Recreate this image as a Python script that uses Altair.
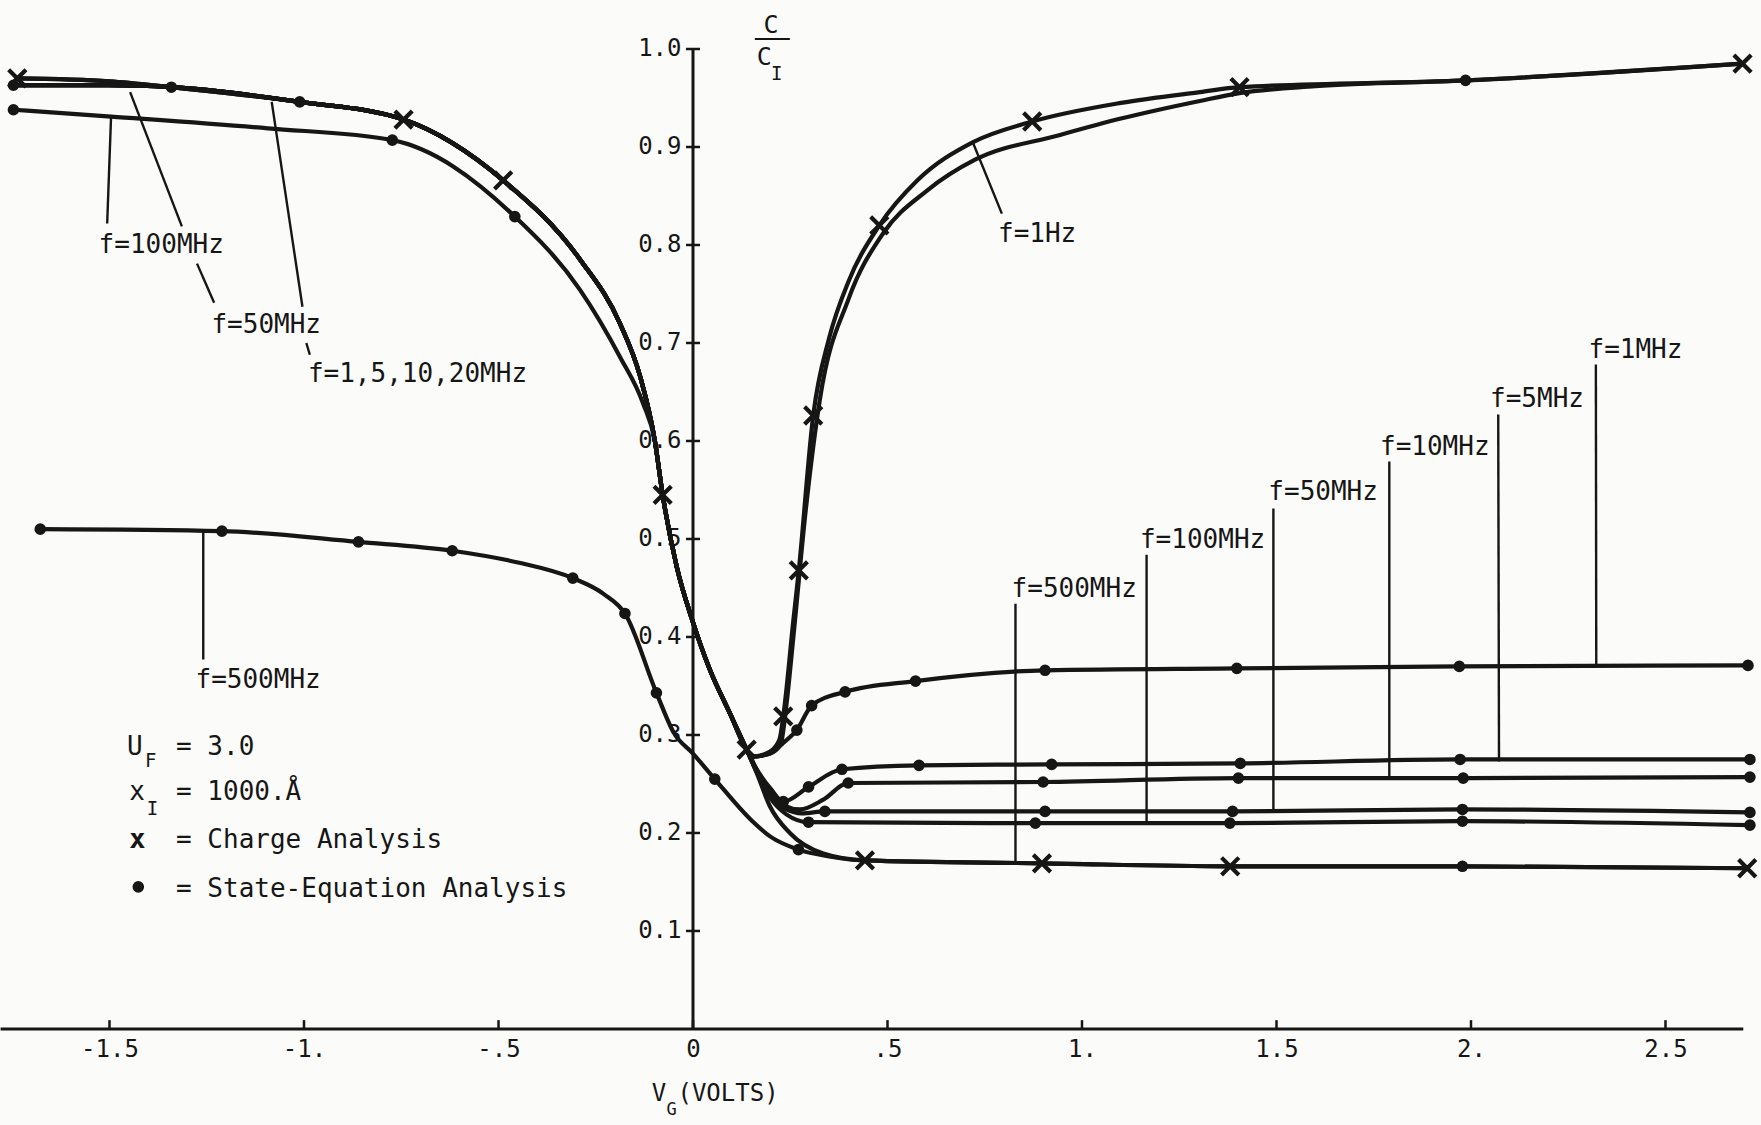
import altair as alt
import pandas as pd

W, H = 1761, 1125
X_DOM = [-1.7815, 2.7455]
Y_DOM = [-0.098, 1.05]
INK = "#161616"
PAPER = "#fbfbf9"
FONT = "DejaVu Sans Mono"

# ---------------- data (V_G in volts, C/C_I) ----------------
# shared accumulation/depletion bundle
BUNDLE_V = [-1.341, -1.011, -0.744, -0.488, -0.290, -0.188, -0.136, -0.098,
            -0.078, -0.042, 0.0, 0.044, 0.095, 0.138]
BUNDLE_C = [0.961, 0.946, 0.928, 0.866, 0.785, 0.720, 0.666, 0.600,
            0.545, 0.472, 0.415, 0.366, 0.322, 0.285]

Q_START_V = [-1.737, -1.50]
Q_START_C = [0.970, 0.967]
S_START_V = [-1.747, -1.50]
S_START_C = [0.963, 0.963]

Q_1HZ_V = [0.155, 0.198, 0.222, 0.232, 0.258, 0.272, 0.309, 0.35, 0.40, 0.479, 0.577, 0.72,
           0.872, 1.10, 1.303, 1.405, 1.986, 2.698]
Q_1HZ_C = [0.278, 0.283, 0.295, 0.319, 0.417, 0.468, 0.626, 0.705, 0.763, 0.820, 0.866, 0.905,
           0.926, 0.945, 0.956, 0.961, 0.968, 0.985]

Q_HF_V = [0.164, 0.198, 0.249, 0.335, 0.442, 0.897, 1.381, 1.978, 2.71]
Q_HF_C = [0.261, 0.227, 0.200, 0.179, 0.172, 0.169, 0.166, 0.166, 0.164]

S_1HZ_V = [0.155, 0.198, 0.225, 0.240, 0.258, 0.29, 0.326, 0.40, 0.489, 0.60, 0.725, 0.941,
           1.10, 1.303, 1.405, 1.60, 1.986, 2.698]
S_1HZ_C = [0.278, 0.281, 0.290, 0.330, 0.400, 0.530, 0.642, 0.745, 0.812, 0.855, 0.887, 0.912,
           0.929, 0.947, 0.955, 0.962, 0.968, 0.985]

S_1MHZ_V = [0.155, 0.198, 0.232, 0.267, 0.305, 0.391, 0.572, 0.905, 1.398, 1.970, 2.712]
S_1MHZ_C = [0.278, 0.281, 0.292, 0.305, 0.330, 0.344, 0.355, 0.366, 0.368, 0.370, 0.371]

S_5MHZ_V = [0.164, 0.200, 0.232, 0.297, 0.383, 0.581, 0.922, 1.407, 1.972, 2.717]
S_5MHZ_C = [0.265, 0.245, 0.232, 0.247, 0.265, 0.269, 0.270, 0.271, 0.275, 0.275]

S_10MHZ_V = [0.164, 0.200, 0.235, 0.275, 0.335, 0.399, 0.900, 1.402, 1.980, 2.717]
S_10MHZ_C = [0.264, 0.241, 0.228, 0.224, 0.234, 0.251, 0.252, 0.256, 0.256, 0.257]

S_50MHZ_V = [0.164, 0.200, 0.240, 0.280, 0.339, 0.905, 1.387, 1.978, 2.717]
S_50MHZ_C = [0.263, 0.238, 0.224, 0.220, 0.222, 0.222, 0.222, 0.224, 0.221]

S_100_LEFT_V = [-1.747, -1.496, -1.093, -0.773, -0.458, -0.290, -0.188, -0.128]
S_100_LEFT_C = [0.938, 0.931, 0.919, 0.907, 0.829, 0.754, 0.686, 0.638]
S_100_RIGHT_V = [0.164, 0.200, 0.240, 0.297, 0.880, 1.380, 1.978, 2.717]
S_100_RIGHT_C = [0.262, 0.235, 0.219, 0.211, 0.210, 0.210, 0.212, 0.208]

S_500_V = [-1.678, -1.211, -0.860, -0.619, -0.45, -0.309, -0.23, -0.175, -0.094, -0.049,
           0.0, 0.056, 0.15, 0.20, 0.271, 0.35, 0.442, 0.897, 1.381, 1.978, 2.71]
S_500_C = [0.510, 0.508, 0.497, 0.488, 0.476, 0.460, 0.444, 0.424, 0.343, 0.302,
           0.281, 0.255, 0.213, 0.196, 0.183, 0.176, 0.172, 0.169, 0.166, 0.166, 0.164]

# markers
DOT_V = [-1.747, -1.341, -1.011, -1.747, -0.773, -0.458,
         -1.678, -1.211, -0.860, -0.619, -0.309, -0.175, -0.094, 0.056, 0.271,
         0.267, 0.305, 0.391, 0.572, 0.905, 1.398, 1.970, 2.712,
         0.232, 0.297, 0.383, 0.581, 0.922, 1.407, 1.972, 2.717,
         0.399, 0.900, 1.402, 1.980, 2.717,
         0.339, 0.905, 1.387, 1.978, 2.717,
         0.297, 0.880, 1.380, 1.978, 2.717,
         1.978, 1.986]
DOT_C = [0.963, 0.961, 0.946, 0.938, 0.907, 0.829,
         0.510, 0.508, 0.497, 0.488, 0.460, 0.424, 0.343, 0.255, 0.183,
         0.305, 0.330, 0.344, 0.355, 0.366, 0.368, 0.370, 0.371,
         0.232, 0.247, 0.265, 0.269, 0.270, 0.271, 0.275, 0.275,
         0.251, 0.252, 0.256, 0.256, 0.257,
         0.222, 0.222, 0.222, 0.224, 0.221,
         0.211, 0.210, 0.210, 0.212, 0.208,
         0.166, 0.968]

CROSS_V = [-1.737, -0.744, -0.488, -0.078, 0.138, 0.232, 0.272, 0.309, 0.479, 0.872, 1.405,
           2.698, 0.442, 0.897, 1.381, 2.71]
CROSS_C = [0.970, 0.928, 0.866, 0.545, 0.285, 0.319, 0.468, 0.626, 0.820, 0.926, 0.961,
           0.985, 0.172, 0.169, 0.166, 0.164]

# curve labels and their leader lines
LABEL_TEXT = ["f=100MHz", "f=50MHz", "f=1,5,10,20MHz", "f=500MHz", "f=1Hz",
              "f=500MHz", "f=100MHz", "f=50MHz", "f=10MHz", "f=5MHz", "f=1MHz"]
LABEL_V = [-1.528, -1.238, -0.990, -1.279, 0.784, 0.819, 1.149, 1.479, 1.766, 2.049, 2.302]
LABEL_C = [0.7915, 0.710, 0.660, 0.3477, 0.8034, 0.4411, 0.4905, 0.5398, 0.5857, 0.635, 0.6844]

PTR_V1 = [-1.496, -1.447, -1.275, -1.083, -0.994, -1.259, 0.720, 0.829, 1.166, 1.492, 1.790, 2.070, 2.321]
PTR_C1 = [0.931, 0.956, 0.781, 0.946, 0.700, 0.509, 0.904, 0.434, 0.484, 0.531, 0.579, 0.627, 0.678]
PTR_V2 = [-1.506, -1.314, -1.231, -1.004, -0.985, -1.259, 0.794, 0.829, 1.166, 1.492, 1.790, 2.072, 2.322]
PTR_C2 = [0.822, 0.819, 0.741, 0.737, 0.688, 0.377, 0.832, 0.171, 0.210, 0.222, 0.256, 0.273, 0.370]

# legend block
LEG_TEXT = ["U", "= 3.0", "x", "= 1000.Å", "= Charge Analysis", "= State-Equation Analysis"]
LEG_V = [-1.455, -1.329, -1.449, -1.329, -1.329, -1.329]
LEG_C = [0.2791, 0.2791, 0.2337, 0.2337, 0.1844, 0.1350]
SUB_TEXT = ["F", "I"]
SUB_V = [-1.409, -1.404]
SUB_C = [0.2677, 0.2184]
LEG_CROSS_TEXT = ["x"]
LEG_CROSS_V = [-1.449]
LEG_CROSS_C = [0.1844]
LEG_DOT_V = [-1.426]
LEG_DOT_C = [0.145]

# axis titles
YT_TEXT = ["C", "C"]
YT_V = [0.181, 0.164]
YT_C = [1.016, 0.9837]
YT_SUB_TEXT = ["I"]
YT_SUB_V = [0.2005]
YT_SUB_C = [0.968]
YT_BAR_V = [0.159]
YT_BAR_V2 = [0.249]
YT_BAR_C = [1.0102]
XT_TEXT = ["V", "(VOLTS)"]
XT_V = [-0.106, -0.040]
XT_C = [-0.073, -0.073]
XT_SUB_TEXT = ["G"]
XT_SUB_V = [-0.068]
XT_SUB_C = [-0.088]

# axes
X_TICKS = [-1.5, -1.0, -0.5, 0.0, 0.5, 1.0, 1.5, 2.0, 2.5]
X_TICK_LABELS = ["-1.5", "-1.", "-.5", "0", ".5", "1.", "1.5", "2.", "2.5"]
Y_TICKS = [0.1, 0.2, 0.3, 0.4, 0.5, 0.6, 0.7, 0.8, 0.9, 1.0]
X_AXIS_SPAN = [-1.78, 2.70]
Y_AXIS_SPAN = [0.0, 1.0]

# ---------------- build tables ----------------
def pts(v, c):
    return list(zip(v, c))

bundle = pts(BUNDLE_V, BUNDLE_C)
bundle_tail = [p for p in bundle if p[0] > -0.12]
curves = {
    "Q 1Hz": pts(Q_START_V, Q_START_C) + bundle + pts(Q_1HZ_V, Q_1HZ_C),
    "Q HF": pts(Q_START_V, Q_START_C) + bundle + pts(Q_HF_V, Q_HF_C),
    "S 1Hz": pts(S_START_V, S_START_C) + bundle + pts(S_1HZ_V, S_1HZ_C),
    "S 1MHz": pts(S_START_V, S_START_C) + bundle + pts(S_1MHZ_V, S_1MHZ_C),
    "S 5MHz": pts(S_START_V, S_START_C) + bundle + pts(S_5MHZ_V, S_5MHZ_C),
    "S 10MHz": pts(S_START_V, S_START_C) + bundle + pts(S_10MHZ_V, S_10MHZ_C),
    "S 50MHz": pts(S_START_V, S_START_C) + bundle + pts(S_50MHZ_V, S_50MHZ_C),
    "S 100MHz": pts(S_100_LEFT_V, S_100_LEFT_C) + bundle_tail + pts(S_100_RIGHT_V, S_100_RIGHT_C),
    "S 500MHz": pts(S_500_V, S_500_C),
}
WIDTHS = {"Q 1Hz": 4.2, "Q HF": 4.2, "S 1Hz": 2.2, "S 1MHz": 3.0, "S 5MHz": 3.2,
          "S 10MHz": 3.0, "S 50MHz": 3.0, "S 100MHz": 2.5, "S 500MHz": 2.3}

rows = []
for name, p in curves.items():
    for i, (v, c) in enumerate(p):
        rows.append({"series": name, "i": i, "v": v, "c": c})
curve_df = pd.DataFrame(rows)

x0_px = (0 - X_DOM[0]) / (X_DOM[1] - X_DOM[0]) * W
y0_px = (Y_DOM[1] - 0) / (Y_DOM[1] - Y_DOM[0]) * H

label_expr = " : ".join(
    f"abs(datum.value - ({t})) < 1e-6 ? '{l}'" for t, l in zip(X_TICKS, X_TICK_LABELS)
) + " : ''"

xscale = alt.Scale(domain=X_DOM, nice=False, zero=False)
yscale = alt.Scale(domain=Y_DOM, nice=False, zero=False)
xaxis = alt.Axis(orient="bottom", offset=-(H - y0_px), values=X_TICKS, labelExpr=label_expr,
                 domain=False, ticks=False, tickSize=0, grid=False, title=None,
                 labelFont=FONT, labelFontSize=24, labelColor=INK, labelPadding=9,
                 labelFlush=False, labelOverlap=False)
yaxis = alt.Axis(orient="left", offset=-x0_px, values=Y_TICKS, format=".1f",
                 domain=False, ticks=False, tickSize=0, grid=False, title=None,
                 labelFont=FONT, labelFontSize=24, labelColor=INK, labelPadding=12,
                 labelBaseline="middle", labelFlush=False, labelOverlap=False)


def X(f="v"):
    return alt.X(f"{f}:Q", scale=xscale, axis=xaxis)


def Y(f="c"):
    return alt.Y(f"{f}:Q", scale=yscale, axis=yaxis)


# curves
lines = alt.Chart(curve_df).mark_line(interpolate="monotone", color=INK, strokeCap="round",
                                      strokeJoin="round").encode(
    x=X(), y=Y(), detail="series:N", order="i:Q",
    strokeWidth=alt.StrokeWidth("series:N", legend=None,
                                scale=alt.Scale(domain=list(WIDTHS.keys()),
                                                range=list(WIDTHS.values()))),
)

# leader lines
ptr_df = pd.DataFrame({"v": PTR_V1, "c": PTR_C1, "v2": PTR_V2, "c2": PTR_C2})
ptrs = alt.Chart(ptr_df).mark_rule(color=INK, strokeWidth=2.4).encode(
    x=X(), y=Y(), x2="v2:Q", y2="c2:Q")

# axis lines and ticks
ax_df = pd.DataFrame({"v": [0.0, X_AXIS_SPAN[0]], "c": [Y_AXIS_SPAN[0], 0.0],
                      "v2": [0.0, X_AXIS_SPAN[1]], "c2": [Y_AXIS_SPAN[1], 0.0]})
axlines = alt.Chart(ax_df).mark_rule(color=INK, strokeWidth=3).encode(
    x=X(), y=Y(), x2="v2:Q", y2="c2:Q")
xt_df = pd.DataFrame({"v": X_TICKS})
xticks = alt.Chart(xt_df).transform_calculate(c="0", c2="0.009").mark_rule(
    color=INK, strokeWidth=2.5).encode(x=X(), y=Y(), y2="c2:Q")
yt_df = pd.DataFrame({"c": Y_TICKS})
yticks = alt.Chart(yt_df).transform_calculate(v="-0.018", v2="0.018").mark_rule(
    color=INK, strokeWidth=2.5).encode(x=X(), x2="v2:Q", y=Y())

# markers
dot_df = pd.DataFrame({"v": DOT_V + LEG_DOT_V, "c": DOT_C + LEG_DOT_C})
dots = alt.Chart(dot_df).mark_point(shape="circle", filled=True, size=135, color=INK,
                                    opacity=1).encode(x=X(), y=Y())
cross_df = pd.DataFrame({"v": CROSS_V, "c": CROSS_C})
crosses = alt.Chart(cross_df).mark_point(shape="M-1,-1L1,1M-1,1L1,-1", filled=False,
                                         size=300, strokeWidth=4.2, color=INK,
                                         opacity=1).encode(x=X(), y=Y())

# texts
FS_MAIN, FS_SUB = 26, 19
text_rows = []
for t, v, c in zip(LABEL_TEXT, LABEL_V, LABEL_C):
    text_rows.append({"t": t, "v": v, "c": c, "fs": FS_MAIN})
for t, v, c in zip(LEG_TEXT, LEG_V, LEG_C):
    text_rows.append({"t": t, "v": v, "c": c, "fs": FS_MAIN})
for t, v, c in zip(SUB_TEXT, SUB_V, SUB_C):
    text_rows.append({"t": t, "v": v, "c": c, "fs": FS_SUB})
for t, v, c in zip(YT_TEXT, YT_V, YT_C):
    text_rows.append({"t": t, "v": v, "c": c, "fs": 25})
for t, v, c in zip(YT_SUB_TEXT, YT_SUB_V, YT_SUB_C):
    text_rows.append({"t": t, "v": v, "c": c, "fs": FS_SUB})
for t, v, c in zip(XT_TEXT, XT_V, XT_C):
    text_rows.append({"t": t, "v": v, "c": c, "fs": 24})
for t, v, c in zip(XT_SUB_TEXT, XT_SUB_V, XT_SUB_C):
    text_rows.append({"t": t, "v": v, "c": c, "fs": 17})
text_df = pd.DataFrame(text_rows)
texts = alt.Chart(text_df).mark_text(font=FONT, align="left", baseline="alphabetic",
                                     color=INK).encode(
    x=X(), y=Y(), text="t:N", size=alt.Size("fs:Q", scale=None, legend=None))

bold_df = pd.DataFrame({"t": LEG_CROSS_TEXT, "v": LEG_CROSS_V, "c": LEG_CROSS_C})
bold = alt.Chart(bold_df).mark_text(font=FONT, align="left", baseline="alphabetic",
                                    color=INK, fontSize=27, fontWeight="bold").encode(
    x=X(), y=Y(), text="t:N")

bar_df = pd.DataFrame({"v": YT_BAR_V, "v2": YT_BAR_V2, "c": YT_BAR_C})
bar = alt.Chart(bar_df).mark_rule(color=INK, strokeWidth=2).encode(x=X(), x2="v2:Q", y=Y())

chart = alt.layer(
    axlines, xticks, yticks, ptrs, lines, dots, crosses, texts, bold, bar
).properties(
    width=W, height=H, autosize=alt.AutoSizeParams(type="none"), padding=0,
    background=PAPER,
).configure_view(stroke=None)

chart.save("out.html", embed_options={"renderer": "svg", "actions": False})
